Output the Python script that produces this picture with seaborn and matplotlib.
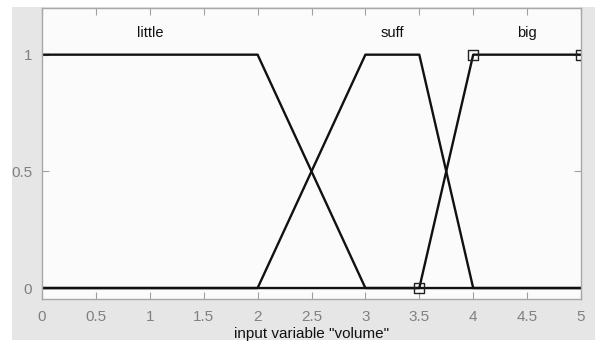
import matplotlib
matplotlib.use("Agg")
import matplotlib.pyplot as plt
from matplotlib.patches import Rectangle
import seaborn as sns
import pandas as pd

# Membership functions of the input variable "volume"
little_x = [0, 2, 3, 5]
little_y = [1, 1, 0, 0]
suff_x = [0, 2, 3, 3.5, 4, 5]
suff_y = [0, 0, 1, 1, 0, 0]
big_x = [0, 3.5, 4, 5]
big_y = [0, 0, 1, 1]

# vertices of the selected function (big)
sel_x = [3.5, 4, 5]
sel_y = [0, 1, 1]

mf_names = ["little", "suff", "big"]
mf_label_x = [1.0, 3.25, 4.5]

x_ticks = [0, 0.5, 1, 1.5, 2, 2.5, 3, 3.5, 4, 4.5, 5]
x_tick_labels = ["0", "0.5", "1", "1.5", "2", "2.5", "3", "3.5", "4", "4.5", "5"]
y_ticks = [0, 0.5, 1]
y_tick_labels = ["0", "0.5", "1"]

sns.set_theme(style="white")
plt.rcParams["font.family"] = ["Liberation Sans", "DejaVu Sans"]

fig = plt.figure(figsize=(5.95, 3.43), dpi=100, facecolor="white")
panel = Rectangle((12 / 595, 3 / 343), 583 / 595, 333 / 343,
                  transform=fig.transFigure, facecolor="#e6e6e6",
                  edgecolor="none", zorder=-10)
fig.add_artist(panel)
ax = fig.add_axes([42 / 595, 1 - 299 / 343, 539 / 595, 291 / 343])
ax.set_zorder(1)
ax.set_facecolor("#fbfbfb")

frames = [
    pd.DataFrame({"x": little_x, "y": little_y, "mf": "little"}),
    pd.DataFrame({"x": suff_x, "y": suff_y, "mf": "suff"}),
    pd.DataFrame({"x": big_x, "y": big_y, "mf": "big"}),
]
for df in frames:
    sns.lineplot(data=df, x="x", y="y", ax=ax, color="#111111", linewidth=1.7,
                 sort=False, estimator=None, legend=False)

sel = pd.DataFrame({"x": sel_x, "y": sel_y})
sns.scatterplot(data=sel, x="x", y="y", ax=ax, marker="s", s=55,
                facecolor="none", edgecolor="#222222", linewidth=1.0,
                legend=False, zorder=5, clip_on=True)

for name, lx in zip(mf_names, mf_label_x):
    ax.text(lx, 1.095, name, ha="center", va="center", fontsize=10.5,
            color="#111111")

ax.set_xlim(0, 5)
ax.set_ylim(-0.047, 1.2)
ax.set_xticks(x_ticks)
ax.set_xticklabels(x_tick_labels)
ax.set_yticks(y_ticks)
ax.set_yticklabels(y_tick_labels)
ax.tick_params(axis="both", direction="in", length=5, width=0.8,
               color="#a0a0a0", labelcolor="#808080", labelsize=11)
ax.tick_params(axis="x", top=True, bottom=True, pad=8)
ax.tick_params(axis="y", left=True, right=True, pad=7)
for sp in ax.spines.values():
    sp.set_color("#a8a8a8")
    sp.set_linewidth(1.0)

ax.set_xlabel('input variable "volume"', fontsize=11, color="#111111",
              labelpad=2)
ax.set_ylabel("")

fig.savefig("out.png", dpi=100, facecolor=fig.get_facecolor())
